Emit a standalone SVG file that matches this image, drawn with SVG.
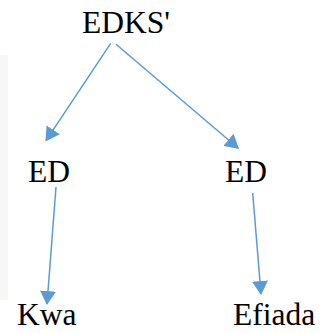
<svg xmlns="http://www.w3.org/2000/svg" width="322" height="333" viewBox="0 0 322 333">
  <style>
    .lbl { font-family: "Liberation Serif", "Times New Roman", serif; font-size: 31.5px; fill: #000; }
    .edge { stroke: #5b9bd5; stroke-width: 1.5; fill: none; marker-end: url(#arrow); }
  </style>
  <defs>
    <marker id="arrow" markerUnits="userSpaceOnUse" markerWidth="14" markerHeight="16" viewBox="0 0 14 16" refX="13" refY="8" orient="auto">
      <path d="M0,0 L14,8 L0,16 Z" fill="#5b9bd5"/>
    </marker>
  </defs>
  <rect width="322" height="333" fill="#fff"/>
  <rect x="0" y="55" width="8" height="245" fill="#f7f7f5"/>

  <!-- tree edges -->
  <g id="connectors">
    <line class="edge" x1="110.7" y1="43.3" x2="46" y2="140.7"/>
    <line class="edge" x1="116" y1="44.3" x2="238.3" y2="148.3"/>
    <line class="edge" x1="56" y1="187" x2="47" y2="304"/>
    <line class="edge" x1="252.7" y1="193" x2="261" y2="294"/>
  </g>

  <!-- node labels -->
  <g id="root"><text class="lbl" x="82" y="33">EDKS'</text></g>
  <g id="ed-left"><text class="lbl" x="28" y="182">ED</text></g>
  <g id="ed-right"><text class="lbl" x="225" y="182">ED</text></g>
  <g id="kwa"><text class="lbl" x="17" y="325">Kwa</text></g>
  <g id="efiada"><text class="lbl" x="233" y="325">Efiada</text></g>
</svg>
